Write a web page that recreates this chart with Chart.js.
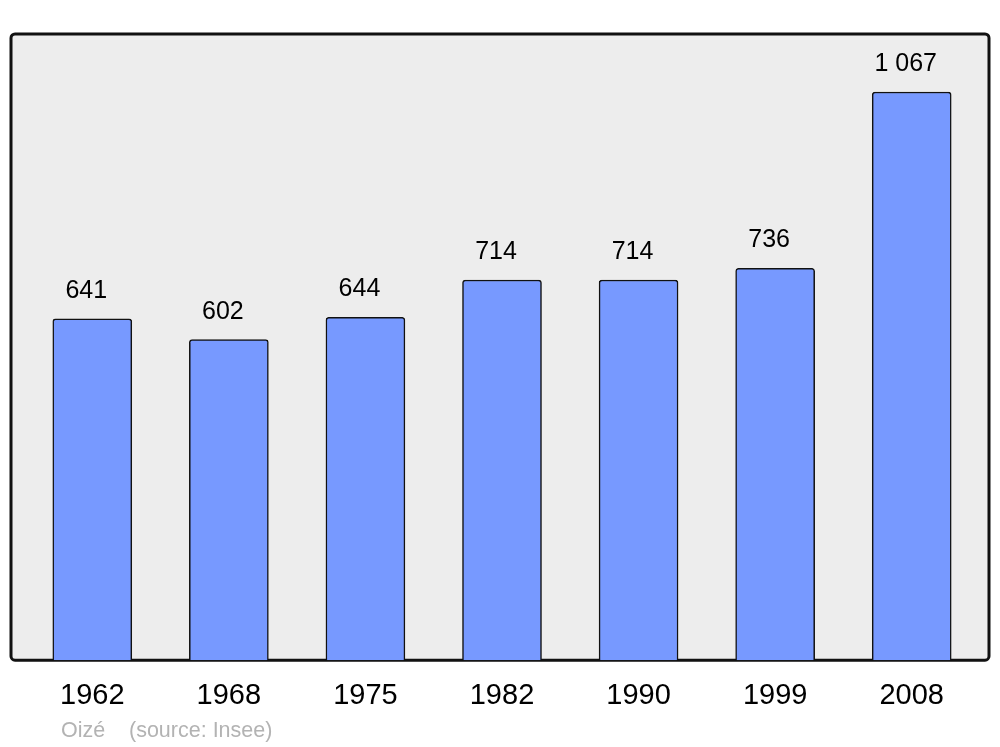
<!DOCTYPE html>
<html>
<head>
<meta charset="utf-8">
<title>Oizé population</title>
<script src="https://cdn.jsdelivr.net/npm/chart.js@4"></script>
<style>
  body { margin: 0; background: #fff; }
  #wrap { position: relative; width: 1000px; height: 747px; }
  .src { position: absolute; top: 718px; font: 21.5px "Liberation Sans", Arial, sans-serif; color: #b3b3b3; white-space: nowrap; }
</style>
</head>
<body>
<div id="wrap">
  <canvas id="myChart"></canvas>
  <span class="src" style="left:61px">Oizé</span>
  <span class="src" style="left:129px">(source: Insee)</span>
</div>
<script>
// data
const years = ["1962", "1968", "1975", "1982", "1990", "1999", "2008"];
const population = [641, 602, 644, 714, 714, 736, 1067];

const fmt = (v) => String(v).replace(/\B(?=(\d{3})+(?!\d))/g, " ");

// grey frame behind the bars
const framePlugin = {
  id: "frame",
  beforeDraw(chart) {
    const { ctx, chartArea } = chart;
    const x = chartArea.left - 13, y = chartArea.top;
    const w = chartArea.right + 9 - x, h = chartArea.bottom - y;
    ctx.save();
    ctx.beginPath();
    ctx.roundRect(x, y, w, h, 4);
    ctx.fillStyle = "#ededed";
    ctx.fill();
    ctx.lineWidth = 3;
    ctx.strokeStyle = "#111";
    ctx.stroke();
    ctx.restore();
  },
};

// numbers above the bars
const valuesPlugin = {
  id: "values",
  afterDatasetsDraw(chart) {
    const { ctx } = chart;
    const meta = chart.getDatasetMeta(0);
    ctx.save();
    ctx.font = '25px "Liberation Sans", Arial, sans-serif';
    ctx.fillStyle = "#000";
    ctx.textAlign = "center";
    ctx.textBaseline = "middle";
    meta.data.forEach((bar, i) => {
      ctx.fillText(fmt(population[i]), bar.x - 6, bar.y - 28);
    });
    ctx.restore();
  },
};

let ctx = document.getElementById("myChart").getContext("2d");
let myChart = new Chart(ctx, {
  type: "bar",
  data: {
    labels: years,
    datasets: [
      {
        data: population,
        backgroundColor: "#7799ff",
        borderColor: "#111",
        borderWidth: 1.5,
        borderSkipped: "bottom",
        borderRadius: { topLeft: 3, topRight: 3 },
        barThickness: 79,
      },
    ],
  },
  options: {
    responsive: true,
    maintainAspectRatio: false,
    animation: false,
    layout: { padding: { left: 24, right: 20, top: 34, bottom: 16 } },
    plugins: { legend: { display: false }, tooltip: { enabled: false } },
    scales: {
      x: {
        grid: { display: false, drawTicks: false },
        border: { display: false },
        ticks: {
          color: "#000",
          padding: 18,
          font: { family: '"Liberation Sans", Arial, sans-serif', size: 29 },
        },
      },
      y: { display: false, min: 0, max: 1176 },
    },
  },
  plugins: [framePlugin, valuesPlugin],
});
</script>
</body>
</html>
